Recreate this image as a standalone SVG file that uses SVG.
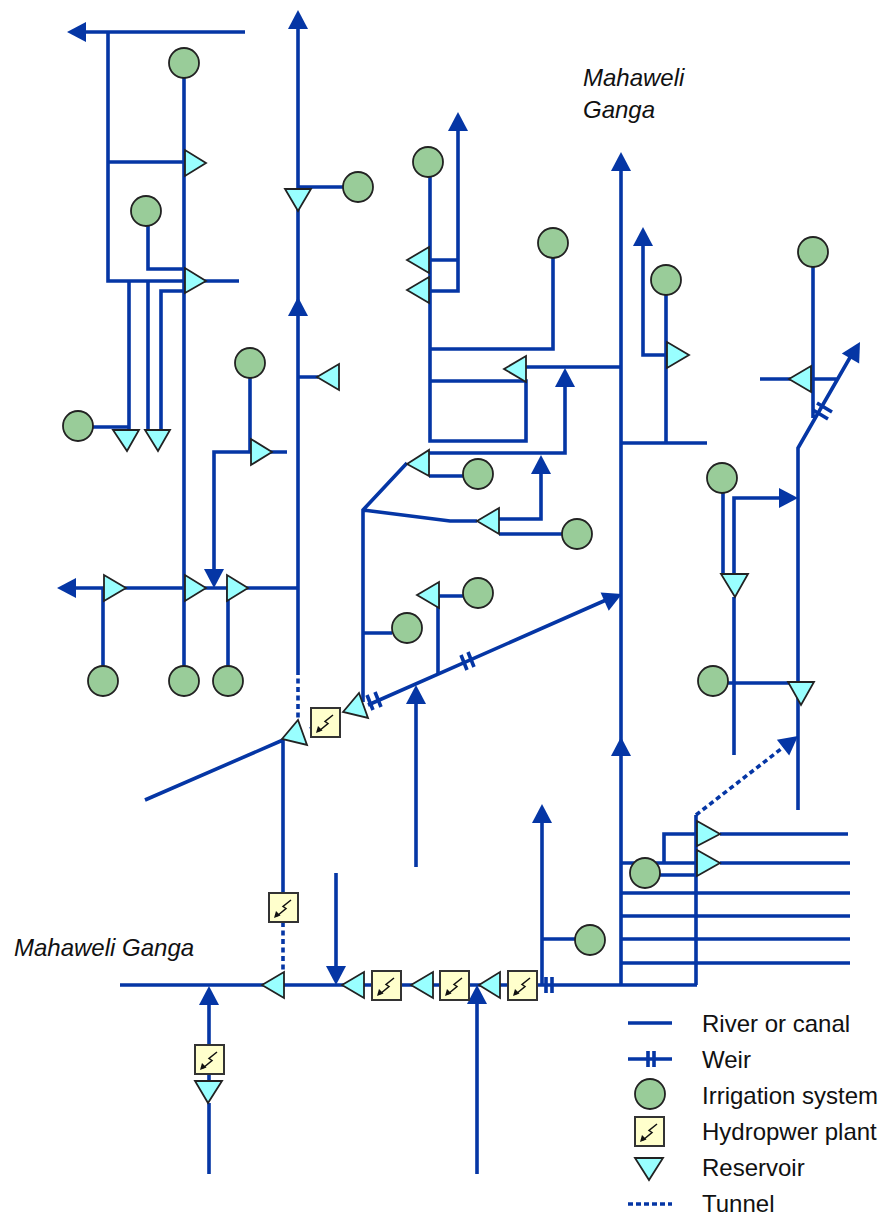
<svg xmlns="http://www.w3.org/2000/svg" width="882" height="1216" viewBox="0 0 882 1216">
<style>
.l{fill:none;stroke:#0536a5;stroke-width:3.6}
.d{stroke-dasharray:5 3.5}
.a{fill:#0536a5;stroke:none}
.c{fill:#99cc99;stroke:#222;stroke-width:1.8}
.r{fill:#99ffff;stroke:#222;stroke-width:1.8;stroke-linejoin:miter}
.pb{fill:#ffffcc;stroke:#333;stroke-width:2}
.b{fill:none;stroke:#111;stroke-width:1.5}
text{font-family:"Liberation Sans",Arial,sans-serif;font-size:24px;fill:#111}
.i{font-style:italic}
</style>
<defs>
<g id="plant"><rect class="pb" x="0" y="0" width="29" height="29"/><path class="b" d="M22 7L14 13.500L17 15.500L8 23"/><path d="M5 25L7 18L11.500 22.500Z" fill="#111"/></g>
<path id="up" class="a" d="M0 0L10 19L-10 19Z"/>
</defs>
<g id="connectors">
<path class="l" d="M245 32H80M108 32V281H239M108 162H185M184 63V666M148 225V269H185M129 281V430M148 281V430M161 430V291H185M93 427H129"/>
<path class="l" d="M298 25V670M298 187H343M298 377H318M250 378V452H272H287M214 570V452H250M70 588H298M103 588V666M228 588V666"/>
<path class="l d" d="M298 670V721"/>
<path class="l" d="M145 800L283 740M283 740V893M368 705L606 600M340 716L310 729M621 167V985M120 985H697M283 985H262"/>
<path class="l d" d="M283 922V970"/>
<path class="l" d="M363 702V510L407 463M429 453H565V385M429 476H463M363 510L450 521H477M499 519H541V470M499 534H562M363 633H392"/>
<path class="l" d="M430 175V441H526V381H430M430 349H553V258M526 367H621M430 260H458M430 291H458V127M438 675V596H463"/>
<path class="l" d="M416 702V867M621 443H707M666 443V295M666 355H643V243"/>
<path class="l" d="M813 267V418M760 379H838M798 810V448L852 354M780 498H734V574M723 493V574M734 597V755M728 683H798"/>
<path class="l d" d="M696 815L790 742"/>
<path class="l" d="M696 815V985M720 834H848M720 863H850M621 863H697M664 863V834H697M660 875H697M621 893H850M621 916H850M621 939H850M621 963H850"/>
<path class="l" d="M542 820V985M542 939H575M546 977V993M552 977V993M336 873V970M477 1000V1174M209 1000V1045M209 1074V1081M209 1103V1174"/>
<path class="l" d="M367 695L373 710M375 692L381 707M461 655L467 670M468 652L474 667M813 410L828 419M817 403L832 412"/>
<use href="#up" transform="translate(298 10)"/><use href="#up" transform="translate(298 297)"/>
<use href="#up" transform="translate(458 112)"/><use href="#up" transform="translate(621 152)"/>
<use href="#up" transform="translate(565 368)"/><use href="#up" transform="translate(541 455)"/>
<use href="#up" transform="translate(643 227)"/><use href="#up" transform="translate(621 737)"/>
<use href="#up" transform="translate(416 685)"/><use href="#up" transform="translate(542 804)"/>
<use href="#up" transform="translate(477 985)"/><use href="#up" transform="translate(209 986)"/>
<use href="#up" transform="translate(67 32) rotate(-90)"/><use href="#up" transform="translate(57 588) rotate(-90)"/>
<use href="#up" transform="translate(214 588) rotate(180)"/><use href="#up" transform="translate(336 985) rotate(180)"/>
<use href="#up" transform="translate(798 498) rotate(90)"/><use href="#up" transform="translate(622 594) rotate(66)"/>
<use href="#up" transform="translate(860 342) rotate(30)"/><use href="#up" transform="translate(798 736) rotate(52)"/>
</g>
<g id="irrigation">
<circle id="i1" class="c" cx="184" cy="63" r="15"/><circle id="i2" class="c" cx="146" cy="211" r="15"/>
<circle id="i3" class="c" cx="78" cy="426" r="15"/><circle id="i4" class="c" cx="358" cy="187" r="15"/>
<circle id="i5" class="c" cx="250" cy="363" r="15"/><circle id="i6" class="c" cx="103" cy="681" r="15"/>
<circle id="i7" class="c" cx="184" cy="681" r="15"/><circle id="i8" class="c" cx="228" cy="681" r="15"/>
<circle id="i9" class="c" cx="428" cy="162" r="15"/><circle id="i10" class="c" cx="553" cy="243" r="15"/>
<circle id="i11" class="c" cx="478" cy="474" r="15"/><circle id="i12" class="c" cx="577" cy="534" r="15"/>
<circle id="i13" class="c" cx="478" cy="593" r="15"/><circle id="i14" class="c" cx="407" cy="628" r="15"/>
<circle id="i15" class="c" cx="666" cy="280" r="15"/><circle id="i16" class="c" cx="813" cy="252" r="15"/>
<circle id="i17" class="c" cx="722" cy="478" r="15"/><circle id="i18" class="c" cx="713" cy="681" r="15"/>
<circle id="i19" class="c" cx="645" cy="873" r="15"/><circle id="i20" class="c" cx="590" cy="940" r="15"/>
</g>
<g id="reservoirs">
<polygon class="r" points="185,150 185,176 206,163"/><polygon class="r" points="185,268 185,293 206,281"/>
<polygon class="r" points="113,430 139,430 127,451"/><polygon class="r" points="145,430 170,430 158,451"/>
<polygon class="r" points="285,189 311,189 298,211"/><polygon class="r" points="317,377 339,364 339,390"/>
<polygon class="r" points="251,439 251,465 272,452"/><polygon class="r" points="104,575 104,601 126,588"/>
<polygon class="r" points="185,575 185,601 206,588"/><polygon class="r" points="227,575 227,601 248,588"/>
<polygon class="r" points="282,739 298,720 307,745"/><polygon class="r" points="343,712 359,693 368,718"/>
<polygon class="r" points="407,464 429,450 429,476"/><polygon class="r" points="477,521 499,508 499,534"/>
<polygon class="r" points="407,260 429,247 429,273"/><polygon class="r" points="407,290 429,277 429,303"/>
<polygon class="r" points="504,369 526,356 526,382"/><polygon class="r" points="417,595 439,582 439,608"/>
<polygon class="r" points="667,342 667,368 689,355"/><polygon class="r" points="789,379 811,366 811,392"/>
<polygon class="r" points="721,574 748,574 735,597"/><polygon class="r" points="788,682 814,682 801,705"/>
<polygon class="r" points="697,821 697,846 720,834"/><polygon class="r" points="697,850 697,876 720,863"/>
<polygon class="r" points="262,985 284,972 284,998"/><polygon class="r" points="342,985 364,972 364,998"/>
<polygon class="r" points="411,985 433,972 433,998"/><polygon class="r" points="479,985 500,972 500,998"/>
<polygon class="r" points="195,1081 222,1081 208,1103"/>
</g>
<g id="plants">
<use href="#plant" x="311" y="708"/><use href="#plant" x="269" y="893"/>
<use href="#plant" x="372" y="971"/><use href="#plant" x="440" y="971"/><use href="#plant" x="508" y="971"/>
<use href="#plant" x="195" y="1045"/>
</g>
<g id="labels">
<text class="i" x="583" y="86">Mahaweli</text>
<text class="i" x="583" y="118">Ganga</text>
<text class="i" x="14" y="956">Mahaweli Ganga</text>
</g>
<g id="legend">
<path class="l" d="M628 1023H672M628 1059H672M648 1051V1067M654 1051V1067"/>
<path class="l" d="M628 1204H672" stroke-dasharray="5 3"/>
<circle class="c" cx="650" cy="1094" r="15"/>
<use href="#plant" x="635" y="1117"/>
<polygon class="r" points="635,1158 663,1158 649,1180"/>
<text x="702" y="1032">River or canal</text>
<text x="702" y="1068">Weir</text>
<text x="702" y="1104">Irrigation system</text>
<text x="702" y="1140">Hydropwer plant</text>
<text x="702" y="1176">Reservoir</text>
<text x="702" y="1212">Tunnel</text>
</g>
</svg>
